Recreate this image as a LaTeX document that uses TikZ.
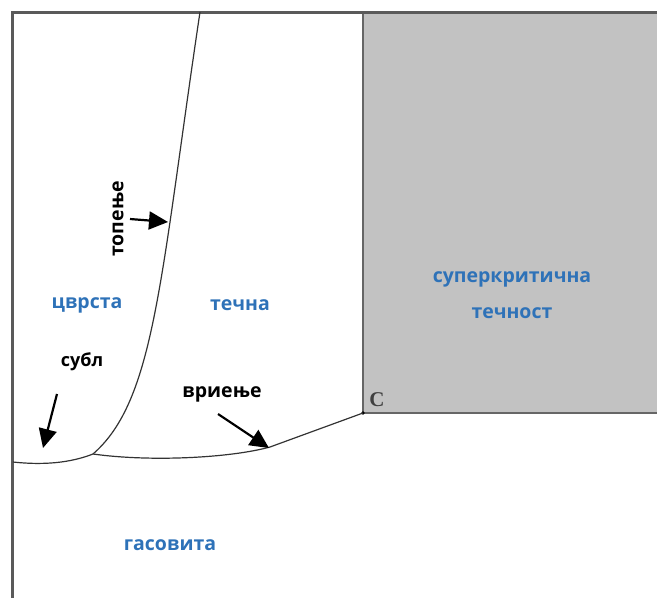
\documentclass[tikz,border=0pt]{standalone}
\usepackage{fontspec}
\setmainfont{Open Sans}
\newfontfamily\cserif{Liberation Serif}
\usetikzlibrary{arrows.meta}
\definecolor{lblblue}{HTML}{2E72B8}
\definecolor{framegray}{HTML}{5A5A5A}
\definecolor{superfill}{HTML}{C2C2C2}
\tikzset{
  phaselbl/.style={font=\fontsize{19.5}{22}\selectfont\bfseries, text=lblblue},
  blacklbl/.style={font=\fontsize{19.5}{22}\selectfont\bfseries, text=black},
  curve/.style={line width=1.2pt, draw=black!80},
  pointer/.style={line width=2.2pt, -{Triangle[length=19pt,width=18pt]}},
  frameline/.style={line width=3pt, draw=framegray}
}
\begin{document}
\begin{tikzpicture}[x=1pt,y=-1pt]
\useasboundingbox (0,0) rectangle (657,598);
% supercritical region
\fill[superfill] (363,12) rectangle (657,413);
\draw[line width=1.4pt, draw=black!60] (363,12) -- (363,413) -- (657,413);
% frame
\draw[frameline] (12,598) -- (12,12) -- (657,12);
% key points
\coordinate (T) at (93,454);
\coordinate (Cp) at (363,413);
\coordinate (top) at (200,12);
\coordinate (left) at (13,462);
\coordinate (bend) at (270,447);
\fill[black] (Cp) circle (1.8pt);
% curves
\draw[curve] (top) .. controls (160,280) and (155,400) .. (T);
\draw[curve] (left) .. controls (50,466) and (75,461) .. (T);
\draw[curve] (T) .. controls (150,462) and (230,458) .. (bend) -- (Cp);
% labels
\node[phaselbl] (solid) at (87,305) {цврста};
\node[phaselbl] (liquid) at (240,305) {течна};
\node[phaselbl] (sc1) at (512,279) {суперкритична};
\node[phaselbl] (sc2) at (512,313) {течност};
\node[phaselbl] (gas) at (170,545) {гасовита};
\node[font=\fontsize{21}{24}\selectfont\cserif\bfseries, text=black!75] (Clbl) at (377,400) {C};
\node[blacklbl, rotate=90] (melt) at (118,219) {топење};
\node[blacklbl, font=\fontsize{18}{21}\selectfont\bfseries] (subl) at (82,362) {субл};
\node[blacklbl] (boil) at (222,394) {вриење};
% arrows
\coordinate (meltA) at (130,219);
\coordinate (meltB) at (168,222);
\coordinate (sublA) at (57,394);
\coordinate (sublB) at (43,448);
\coordinate (boilA) at (218,414);
\coordinate (boilB) at (269,448);
\draw[pointer] (meltA) -- (meltB);
\draw[pointer] (sublA) -- (sublB);
\draw[pointer] (boilA) -- (boilB);
\end{tikzpicture}
\end{document}
